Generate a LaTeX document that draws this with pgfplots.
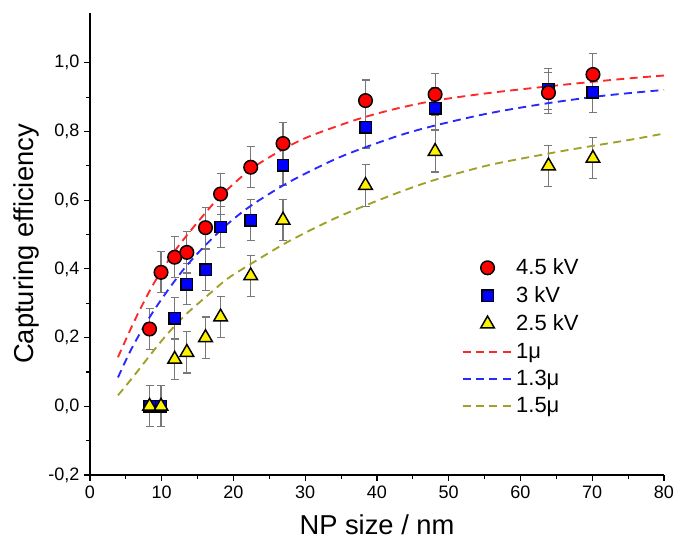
\documentclass[border=0pt]{standalone}
\usepackage{fontspec}
\setmainfont{Liberation Sans}
\usepackage{pgfplots}
\pgfplotsset{compat=1.18}
\definecolor{lred}{RGB}{255,40,40}
\definecolor{lblue}{RGB}{40,40,255}
\definecolor{lolive}{RGB}{160,160,40}
\definecolor{ebar}{RGB}{120,120,120}
\begin{document}
\begin{tikzpicture}
\begin{axis}[
  scale only axis, width=430.5pt, height=346.5pt,
  xmin=0, xmax=80, ymin=-0.2, ymax=1.145,
  axis x line*=bottom, axis y line*=left,
  axis line style={line width=1.1pt},
  xtick={0,10,20,30,40,50,60,70,80}, minor x tick num=1,
  ytick={-0.2,0,0.2,0.4,0.6,0.8,1.0}, minor y tick num=1,
  tick align=outside, major tick length=4.5pt, minor tick length=2.8pt,
  every tick/.style={black, line width=0.9pt},
  /pgf/number format/assume math mode=true,
  yticklabel style={/pgf/number format/.cd, fixed, fixed zerofill, precision=1, use comma},
  ticklabel style={font=\fontsize{13.5}{16}\selectfont},
  xlabel={NP size / nm}, ylabel={Capturing efficiency},
  label style={font=\fontsize{20.5}{24}\selectfont},
  xlabel style={at={(axis description cs:0.5,-0.128)}, anchor=base},
  ylabel style={at={(axis description cs:-0.099,0.5)}, anchor=base},
  clip=false,
  legend image code/.code={\draw[mark repeat=2,mark phase=2,#1] plot coordinates {(0pt,0pt) (18.75pt,0pt) (37.5pt,0pt)};},
  legend style={draw=none, fill=none, at={(axis description cs:0.64,0.48)}, anchor=north west,
    font=\fontsize{16.5}{19}\selectfont, row sep=3.6pt},
  legend cell align=left,
  error bars/y dir=both, error bars/y explicit,
  error bars/error bar style={ebar, line width=0.8pt},
  error bars/error mark options={ebar, line width=0.8pt, mark size=3pt, rotate=90},
]
% legend entries
\addlegendimage{only marks, mark=*, mark size=5.1pt, mark options={fill=red, draw=black, line width=1.1pt}}
\addlegendentry{4.5 kV}
\addlegendimage{only marks, mark=square*, mark size=4.3pt, mark options={fill=blue, draw=black, line width=1.1pt}}
\addlegendentry{3 kV}
\addlegendimage{only marks, mark=triangle*, mark size=5.9pt, mark options={fill=yellow, draw=black, line width=1.1pt}}
\addlegendentry{2.5 kV}
\addlegendimage{lred, line width=1.4pt, dash pattern=on 6pt off 4pt}
\addlegendentry{1μ}
\addlegendimage{lblue, line width=1.4pt, dash pattern=on 6pt off 4pt}
\addlegendentry{1.3μ}
\addlegendimage{lolive, line width=1.4pt, dash pattern=on 6pt off 4pt}
\addlegendentry{1.5μ}

% 3 kV squares
\addplot[forget plot, only marks, mark=square*, mark size=4.3pt, mark options={fill=blue, draw=black, line width=1.1pt}]
 table[x=x, y=y, y error=e] {
x y e
8.3 0.0 0.06
9.9 0.0 0.06
11.8 0.256 0.06
13.5 0.355 0.06
16.1 0.398 0.06
18.2 0.522 0.06
22.4 0.542 0.06
26.9 0.702 0.06
38.4 0.812 0.06
48.1 0.867 0.06
63.9 0.923 0.06
70.1 0.914 0.06
};
% 4.5 kV circles
\addplot[forget plot, only marks, mark=*, mark size=5.1pt, mark options={fill=red, draw=black, line width=1.1pt}]
 table[x=x, y=y, y error=e] {
x y e
8.3 0.225 0.06
9.9 0.39 0.06
11.8 0.434 0.06
13.5 0.448 0.06
16.1 0.52 0.06
18.2 0.618 0.06
22.4 0.696 0.06
26.9 0.765 0.06
38.4 0.89 0.06
48.1 0.908 0.06
63.9 0.913 0.06
70.1 0.966 0.06
};
% 2.5 kV triangles
\addplot[forget plot, only marks, mark=triangle*, mark size=5.9pt, mark options={fill=yellow, draw=black, line width=1.1pt}]
 table[x=x, y=y, y error=e] {
x y e
8.3 0.0 0.06
9.9 0.0 0.06
11.8 0.137 0.06
13.5 0.157 0.06
16.1 0.20 0.06
18.2 0.26 0.06
22.4 0.38 0.06
26.9 0.542 0.06
38.4 0.643 0.06
48.1 0.742 0.06
63.9 0.70 0.06
70.1 0.722 0.06
};
% fitted curves
\addplot[forget plot, lred, line width=1.4pt, dash pattern=on 6pt off 4pt, smooth, no markers] coordinates {
(3.9,0.143)(5.6,0.222)(7.0,0.283)(9.1,0.365)(12.1,0.46)(15.4,0.546)(18.2,0.612)(22.4,0.69)(26.9,0.748)(30.6,0.786)(37.2,0.835)(42.4,0.865)(48.1,0.89)(55.6,0.912)(63.7,0.931)(70.7,0.946)(75.3,0.955)(80,0.963)};
\addplot[forget plot, lblue, line width=1.4pt, dash pattern=on 6pt off 4pt, smooth, no markers] coordinates {
(3.9,0.084)(5.6,0.16)(7.4,0.228)(9.1,0.285)(11.1,0.345)(13.1,0.4)(15.4,0.454)(18.7,0.522)(22.3,0.582)(27.5,0.65)(33.4,0.712)(37.2,0.745)(43.2,0.789)(48.2,0.818)(55.6,0.853)(63.7,0.882)(70.7,0.902)(75.3,0.912)(80,0.921)};
\addplot[forget plot, lolive, line width=1.4pt, dash pattern=on 6pt off 4pt, smooth, no markers] coordinates {
(3.9,0.032)(5.6,0.075)(7.0,0.112)(9.1,0.168)(11.1,0.218)(13.6,0.272)(16.8,0.33)(19.2,0.372)(22.3,0.413)(27.5,0.478)(33.4,0.54)(37.6,0.578)(43.2,0.624)(48.2,0.66)(55.6,0.702)(63.7,0.735)(68.3,0.752)(75.3,0.776)(80,0.794)};
\end{axis}
\pgfresetboundingbox
\useasboundingbox (-67.5pt,-54.75pt) rectangle (439.5pt,356.25pt);
\end{tikzpicture}
\end{document}
